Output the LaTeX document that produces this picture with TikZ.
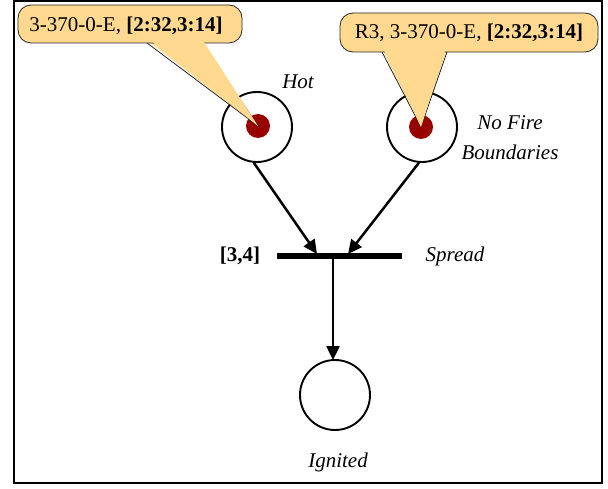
\documentclass[tikz,border=0pt]{standalone}
\usepackage{fontspec}
\setmainfont{Liberation Serif}
\usetikzlibrary{arrows.meta,calc}
\definecolor{calloutfill}{RGB}{255,217,143}
\definecolor{tokenred}{RGB}{153,0,0}
\begin{document}
\begin{tikzpicture}[x=1pt,y=-1pt,
  place/.style={circle,draw=black,line width=1.9pt,minimum size=70pt,inner sep=0pt,fill=white},
  token/.style={circle,fill=tokenred,minimum size=24pt,inner sep=0pt},
  arc/.style={line width=2.5pt,-{Triangle[length=14pt,width=13pt]}},
  lbl/.style={font=\fontsize{21}{30}\selectfont\itshape,inner sep=0pt},
  callout/.style={fill=calloutfill,draw=black!85,line width=0.8pt},
  ctext/.style={font=\fontsize{21}{24}\selectfont,inner sep=0pt}]
\useasboundingbox (0,0) rectangle (608,489);
\draw[line width=2.2pt] (14,1) rectangle (602,483);
% places
\node[place] (hot) at (257,127) {};
\node[place] (nofire) at (422,127) {};
\node[place] (ign) at (335,395) {};
\node[token] (t1) at (258,126) {};
\node[token] (t2) at (421,127) {};
% transition
\coordinate (bl) at (277,256);
\coordinate (br) at (402,256);
\draw[line width=5.5pt] (bl) -- (br);
\coordinate (in1) at (317,254);
\coordinate (in2) at (348,254);
\coordinate (out) at (333,258);
\coordinate (ignin) at (333,360);
\draw[arc] (hot.-95) -- (in1);
\draw[arc] (nofire.-95) -- (in2);
\draw[arc] (out) -- (ignin);
% labels
\node[lbl] (lhot) at (298,82) {Hot};
\node[lbl,align=center] (lnf) at (510,138) {No Fire\\Boundaries};
\node[font=\fontsize{21}{24}\selectfont\bfseries,inner sep=0pt] (lt) at (240,256) {[3,4]};
\node[lbl] (lsp) at (455,256) {Spread};
\node[lbl] (lig) at (338,462) {Ignited};
% callouts
\coordinate (tip1) at (t1.center);
\coordinate (tip2) at (t2.center);
\fill[callout,draw=none] (147,40) -- (tip1) -- (202,40) -- cycle;
\draw[callout,fill=none] (147,43) -- (tip1) -- (202,43);
\draw[callout,rounded corners=13pt] (18,5) rectangle (242,43);
\fill[callout,draw=none] (147.6,38) -- (tip1) -- (201.4,38) -- cycle;
\node[ctext] (c1) at (126,26) {3-370-0-E, \textbf{[2:32,3:14]}};
\fill[callout,draw=none] (382,49) -- (tip2) -- (447,49) -- cycle;
\draw[callout,fill=none] (382,52) -- (tip2) -- (447,52);
\draw[callout,rounded corners=13pt] (340,13) rectangle (598,52);
\fill[callout,draw=none] (382.6,47) -- (tip2) -- (446.4,47) -- cycle;
\node[ctext] (c2) at (469,33) {R3, 3-370-0-E, \textbf{[2:32,3:14]}};
\end{tikzpicture}
\end{document}
